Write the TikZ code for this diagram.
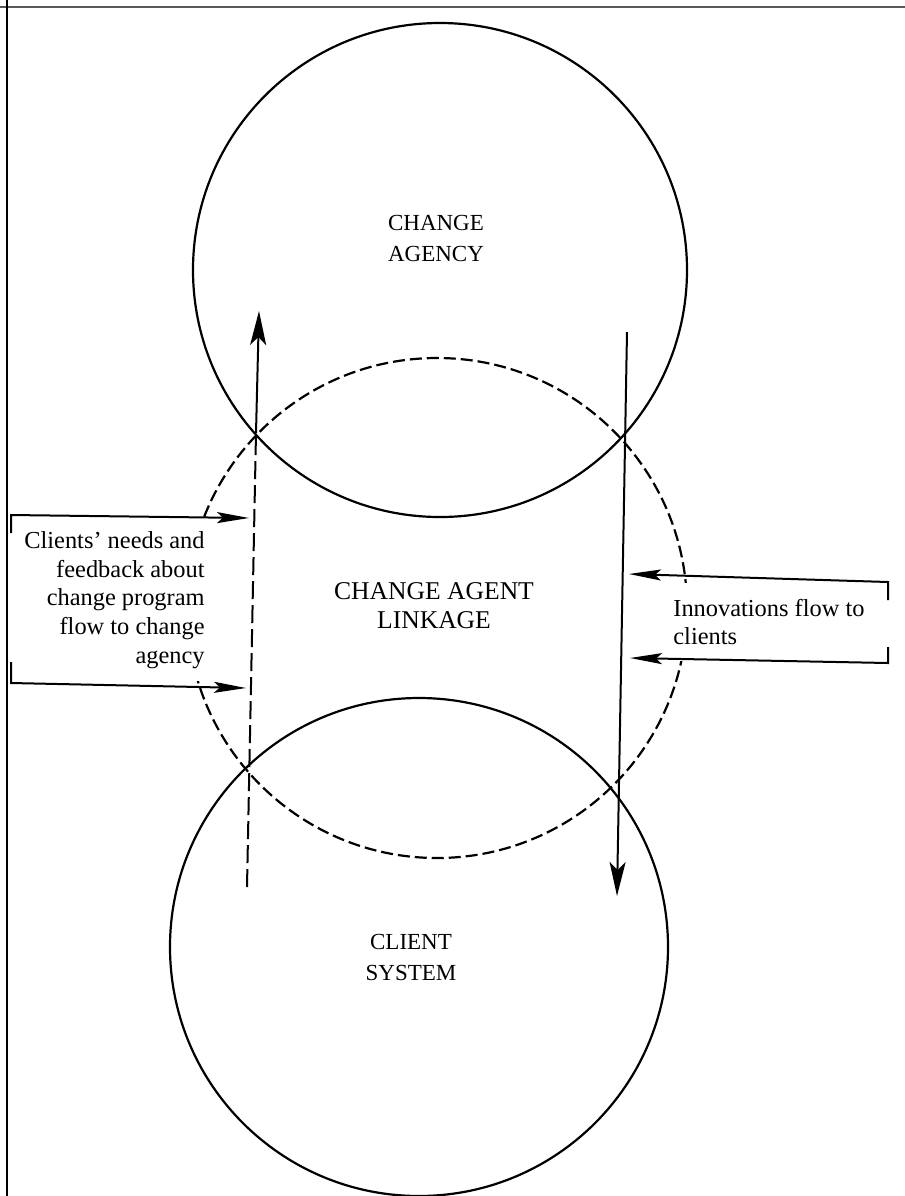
\documentclass[tikz,border=0pt]{standalone}
\usepackage{fontspec}
\setmainfont{Liberation Serif}
\usetikzlibrary{arrows.meta}
\begin{document}
\begin{tikzpicture}[x=0.5pt,y=-0.5pt,
  ring/.style={draw, circle, inner sep=0pt, line width=1.1pt},
  dashring/.style={ring, dash pattern=on 6pt off 2.5pt},
  lbl/.style={align=center, font=\fontsize{11.5}{15.5}\selectfont},
  biglbl/.style={align=center, font=\fontsize{12.8}{14.5}\selectfont},
  note/.style={fill=white, inner xsep=2pt, inner ysep=6pt, font=\fontsize{12.2}{14.4}\selectfont},
  flow/.style={line width=1pt},
  varr/.style={flow,-{Stealth[length=17pt,width=8pt,inset=4pt]}},
  harr/.style={flow,-{Stealth[length=16pt,width=5.5pt,inset=3pt]}},
]
\useasboundingbox (0,0) rectangle (905,1196);
\draw[gray!70!black, line width=1pt] (0,7) -- (905,7);
\draw[line width=1pt] (7,0) -- (7,1196);

\node[dashring, minimum size=250pt] (linkage) at (437,608) {};
\node[ring, minimum size=247pt] (agency) at (440,270) {};
\node[ring, minimum size=249pt] (client) at (419,947) {};

\node[lbl] (agencyT) at (436,238) {CHANGE\\AGENCY};
\node[biglbl] (linkT) at (434,606) {CHANGE AGENT\\LINKAGE};
\node[lbl] (clientT) at (411,957) {CLIENT\\SYSTEM};

\node[note, align=right, anchor=east] (needs) at (209,600) {Clients' needs and\\feedback about\\change program\\flow to change\\agency};
\node[note, inner ysep=8pt, align=left, anchor=west] (innov) at (669,622) {Innovations flow to\\clients};

% upward flow (left)
\coordinate (lb) at (247,887);
\coordinate (lx) at (256,433);
\coordinate (lt) at (259,311);
\draw[flow, dash pattern=on 9pt off 3pt] (lb) -- (lx);
\draw[varr] (lx) -- (lt);

% downward flow (right)
\coordinate (rt) at (627,332);
\coordinate (rb) at (617,896);
\draw[varr] (rt) -- (rb);

% left bracket
\coordinate (l1a) at (11,533);
\coordinate (l1b) at (11,515);
\coordinate (l1c) at (249,518);
\draw[harr] (l1a) -- (l1b) -- (l1c);
\coordinate (l2a) at (11,662);
\coordinate (l2b) at (11,683);
\coordinate (l2c) at (246,688);
\draw[harr] (l2a) -- (l2b) -- (l2c);

% right bracket
\coordinate (r1a) at (888,600);
\coordinate (r1b) at (888,582);
\coordinate (r1c) at (629,574);
\draw[harr] (r1a) -- (r1b) -- (r1c);
\coordinate (r2a) at (888,647);
\coordinate (r2b) at (888,663);
\coordinate (r2c) at (630,658);
\draw[harr] (r2a) -- (r2b) -- (r2c);
\end{tikzpicture}
\end{document}
